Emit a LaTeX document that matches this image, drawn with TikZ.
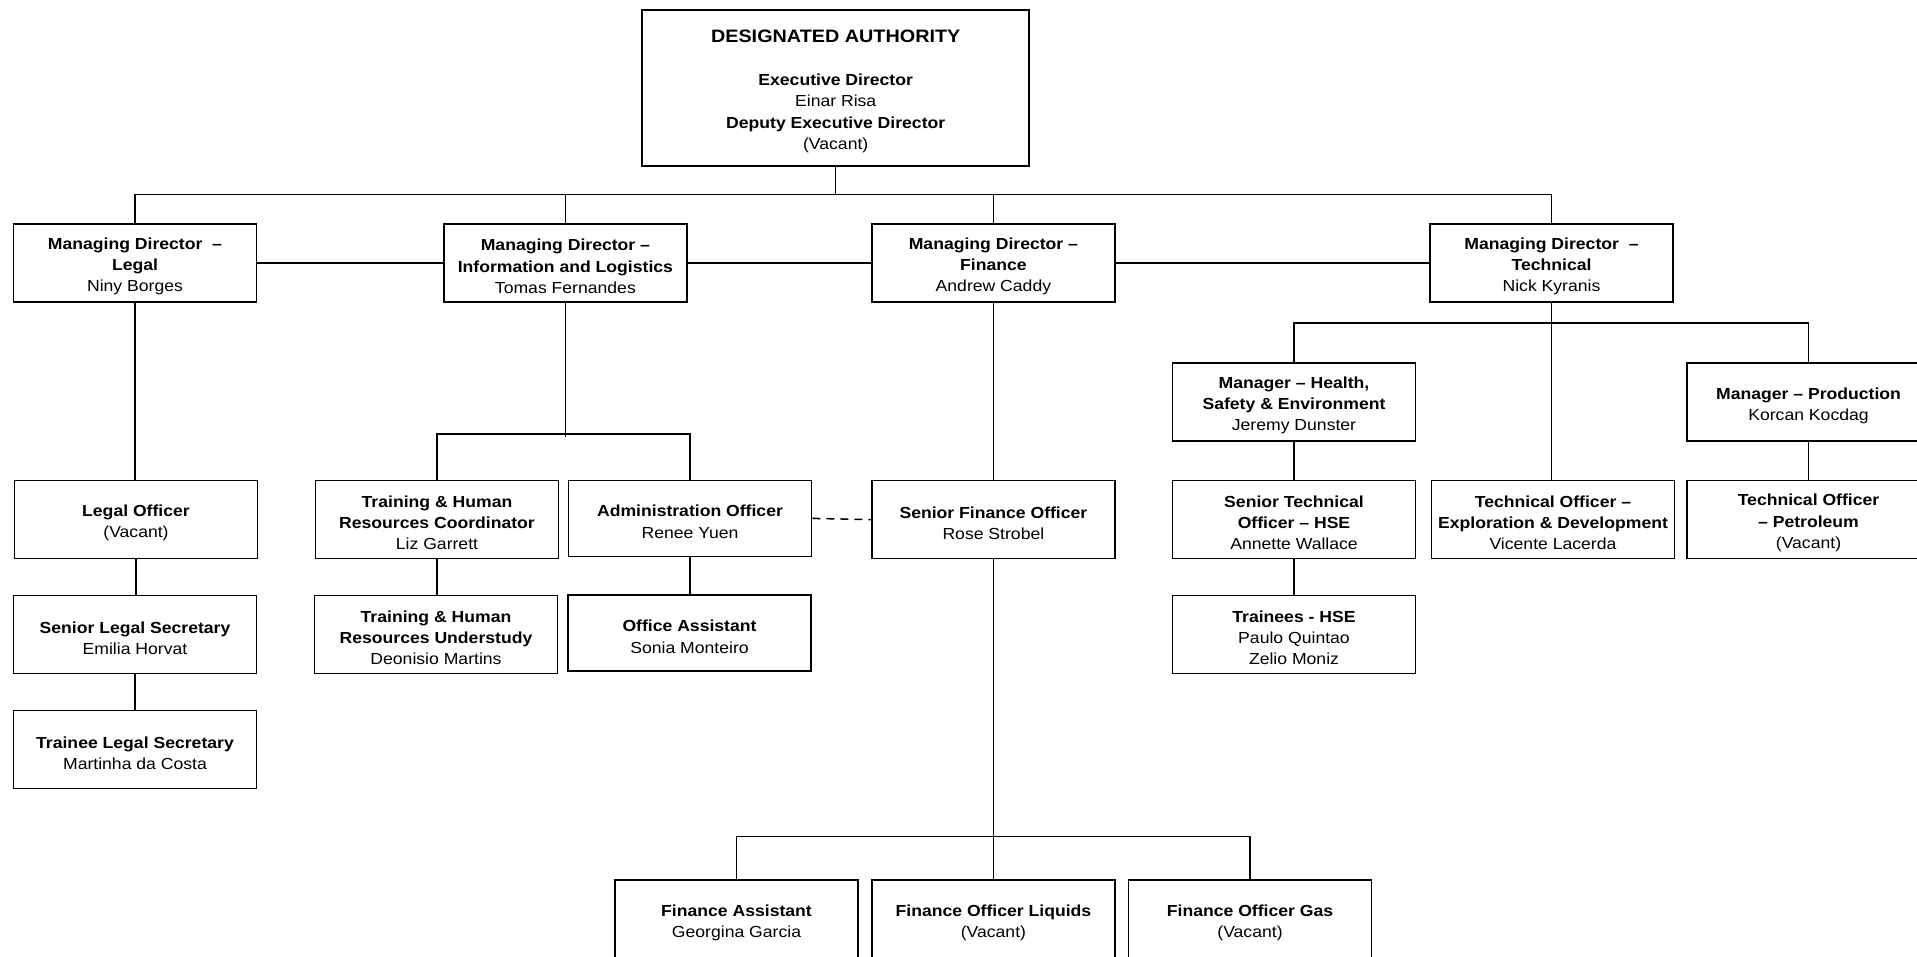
\documentclass[tikz,border=0pt]{standalone}
\usepackage{fontspec}
\setmainfont{Liberation Sans}[FakeStretch=1.1]
\usepackage{tikz}

% a box and its text, the text set a little lower than the box centre
\newcommand{\orgbox}[4][]{%
  \node[box,#1] (#2) at (#3) {};
  \node[boxtext] at ([yshift=-1.7pt]#2.center) {#4};}

\begin{document}
\begin{tikzpicture}[x=0.5pt,y=-0.5pt,
    box/.style={draw,line width=0.85pt,minimum width=121.5pt,minimum height=39pt,inner sep=0pt},
    boxtext/.style={inner sep=0pt,align=center,font=\fontsize{8}{10.6}\selectfont},
    conn/.style={line width=0.75pt}]
        \useasboundingbox (0,0) rectangle (1917,957);
        \clip (0,0) rectangle (1917,957);
        % top
        \orgbox[minimum width=193.5pt,minimum height=78pt]{da}{835.7,88}
          {{\fontsize{9}{10.6}\selectfont\bfseries DESIGNATED AUTHORITY}\\[10.8pt]
           \textbf{Executive Director}\\ Einar Risa\\ \textbf{Deputy Executive Director}\\ (Vacant)}
        % managing directors
        \orgbox{legal}{135,263}{\textbf{Managing Director\ \ --}\\ \textbf{Legal}\\ Niny Borges}
        \orgbox{info}{565.4,263}{\textbf{Managing Director --}\\ \textbf{Information and Logistics}\\ Tomas Fernandes}
        \orgbox{fin}{993.4,263}{\textbf{Managing Director --}\\ \textbf{Finance}\\ Andrew Caddy}
        \orgbox{tech}{1551.5,263}{\textbf{Managing Director\ \ --}\\ \textbf{Technical}\\ Nick Kyranis}
        % legal
        \orgbox{legalofc}{136,519.6}{\textbf{Legal Officer}\\ (Vacant)}
        \orgbox{srlegal}{135,634.5}{\textbf{Senior Legal Secretary}\\ Emilia Horvat}
        \orgbox{trlegal}{135,749.5}{\textbf{Trainee Legal Secretary}\\ Martinha da Costa}
        % information and logistics
        \orgbox{trcoord}{437,519.6}{\textbf{Training \& Human}\\ \textbf{Resources Coordinator}\\ Liz Garrett}
        \orgbox[minimum height=38pt]{admin}{690,518.4}{\textbf{Administration Officer}\\ Renee Yuen}
        \orgbox{trund}{436,634.5}{\textbf{Training \& Human}\\ \textbf{Resources Understudy}\\ Deonisio Martins}
        \orgbox[minimum height=38pt]{office}{689.5,633.3}{\textbf{Office Assistant}\\ Sonia Monteiro}
        % finance
        \orgbox{sfo}{993.4,519.6}{\textbf{Senior Finance Officer}\\ Rose Strobel}
        \orgbox{finasst}{736.5,919.3}{\textbf{Finance Assistant}\\ Georgina Garcia}
        \orgbox{liquids}{993.4,919.3}{\textbf{Finance Officer Liquids}\\ (Vacant)}
        \orgbox{gas}{1250,919.3}{\textbf{Finance Officer Gas}\\ (Vacant)}
        % technical
        \orgbox{hse}{1294,402.2}{\textbf{Manager -- Health,}\\ \textbf{Safety \& Environment}\\ Jeremy Dunster}
        \orgbox{prod}{1808.5,402.2}{\textbf{Manager -- Production}\\ Korcan Kocdag}
        \orgbox{srtech}{1294,519.6}{\textbf{Senior Technical}\\ \textbf{Officer -- HSE}\\ Annette Wallace}
        \orgbox{expl}{1553,519.6}{\textbf{Technical Officer --}\\ \textbf{Exploration \& Development}\\ Vicente Lacerda}
        \orgbox{petro}{1808.5,519.6}{\textbf{Technical Officer}\\ \textbf{-- Petroleum}\\ (Vacant)}
        \orgbox{trhse}{1294,634.5}{\textbf{Trainees - HSE}\\ Paulo Quintao\\ Zelio Moniz}
        % buses
        \coordinate (topbus) at (835.7,194.4);
        \coordinate (infobus) at (565.4,434);
        \coordinate (finbus) at (993.4,836.3);
        \coordinate (techbus) at (1551.5,322.8);
        % connectors
        \draw[conn] (da.south) -- (topbus);
        \draw[conn] (legal.north) -- (legal.north |- topbus) -- (tech.north |- topbus) -- (tech.north);
        \draw[conn] (info.north) -- (info.north |- topbus);
        \draw[conn] (fin.north) -- (fin.north |- topbus);
        \draw[conn] (legal.east) -- (info.west);
        \draw[conn] (info.east) -- (fin.west);
        \draw[conn] (fin.east) -- (tech.west);
        \draw[conn] (legal.south) -- (legal.south |- legalofc.north);
        \draw[conn] (legalofc.south) -- (legalofc.south |- srlegal.north);
        \draw[conn] (srlegal.south) -- (trlegal.north);
        \draw[conn] (info.south) -- ([yshift=-1.5pt]infobus);
        \draw[conn] (trcoord.north) |- (infobus) -| (admin.north);
        \draw[conn] (trcoord.south) -- (trcoord.south |- trund.north);
        \draw[conn] (admin.south) -- (admin.south |- office.north);
        \draw[conn,dashed,dash pattern=on 4pt off 3pt] (admin.east) -- (sfo.west);
        \draw[conn] (fin.south) -- (sfo.north);
        \draw[conn] (sfo.south) -- (finbus);
        \draw[conn] (finasst.north) |- (finbus) -| (gas.north);
        \draw[conn] (liquids.north) -- (finbus);
        \draw[conn] (tech.south) -- (tech.south |- expl.north);
        \draw[conn] (hse.north) |- (techbus) -| (prod.north);
        \draw[conn] (hse.south) -- (srtech.north);
        \draw[conn] (srtech.south) -- (trhse.north);
        \draw[conn] (prod.south) -- (petro.north);
\end{tikzpicture}
\end{document}
